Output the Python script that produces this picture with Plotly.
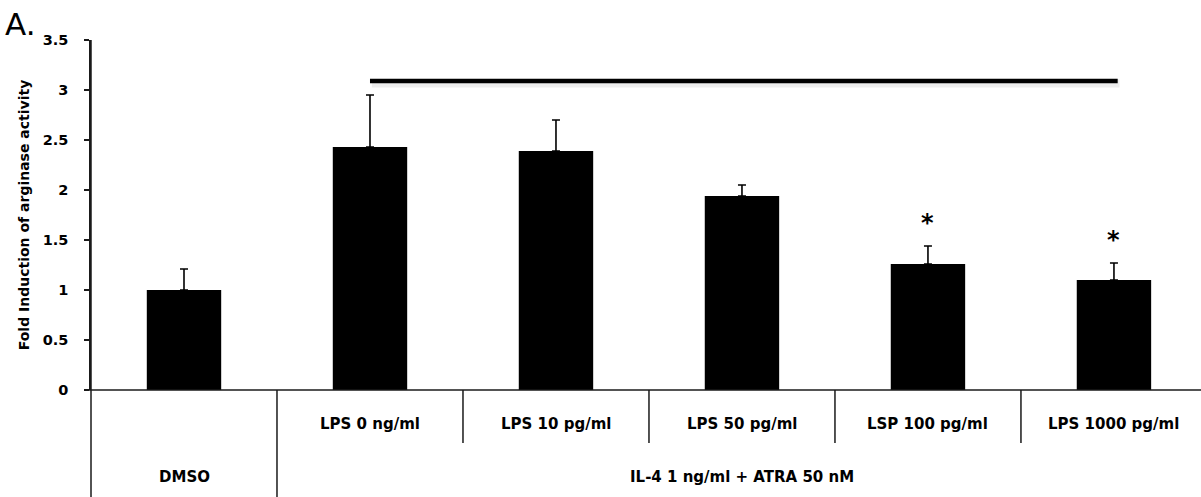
import plotly.graph_objects as go

# Treatment groups (bottom row) and sub-conditions (upper row)
conditions = ["", "LPS 0 ng/ml", "LPS 10 pg/ml", "LPS 50 pg/ml", "LSP 100 pg/ml", "LPS 1000 pg/ml"]
groups = ["DMSO", "IL-4 1 ng/ml + ATRA 50 nM"]
group_members = [[0], [1, 2, 3, 4, 5]]

# Fold induction of arginase activity (mean) and upper error (SD)
fold_induction = [1.00, 2.43, 2.39, 1.94, 1.26, 1.10]
error_upper = [0.21, 0.52, 0.31, 0.11, 0.18, 0.17]
significant = [False, False, False, False, True, True]

# Bracket level over the IL-4 + ATRA conditions
bracket_level = 3.09
bracket_from, bracket_to = 1, 5.02

yticks = [0, 0.5, 1, 1.5, 2, 2.5, 3, 3.5]

FONT = "DejaVu Sans"
W, H = 1201, 497
L, R, T, B = 91, 0, 40, 107
x_lo, x_hi = -0.5, 5.468
plot_h = H - T - B

x = list(range(len(fold_induction)))


def px_to_paper_y(py):
    return (H - B - py) / plot_h


def data_to_paper_x(xv):
    return (xv - x_lo) / (x_hi - x_lo)


fig = go.Figure()
fig.add_trace(go.Bar(
    x=x,
    y=fold_induction,
    width=0.4,
    marker=dict(color="black", line=dict(width=0)),
    error_y=dict(type="data", symmetric=False, array=error_upper,
                 arrayminus=[0] * len(error_upper),
                 color="black", thickness=1.6, width=4),
    showlegend=False,
    hoverinfo="skip",
))

shapes = []
# soft shadow and the bracket line itself
shapes.append(dict(type="line", xref="x", yref="y",
                   x0=bracket_from + 0.01, x1=bracket_to + 0.01,
                   y0=bracket_level - 0.025, y1=bracket_level - 0.025,
                   line=dict(color="rgba(0,0,0,0.07)", width=8), layer="above"))
shapes.append(dict(type="line", xref="x", yref="y",
                   x0=bracket_from, x1=bracket_to,
                   y0=bracket_level, y1=bracket_level,
                   line=dict(color="black", width=4.5), layer="above"))

# x axis baseline
shapes.append(dict(type="line", xref="paper", yref="paper",
                   x0=-4 / (W - L - R), x1=1, y0=0, y1=0,
                   line=dict(color="#1a1a1a", width=1.5)))
# y axis extended down through the label table
shapes.append(dict(type="line", xref="paper", yref="paper",
                   x0=0, x1=0, y0=1, y1=px_to_paper_y(H + 2),
                   line=dict(color="#1a1a1a", width=1.5)))

# group dividers (full depth) and condition dividers (upper row only)
group_edges = [members[-1] + 0.5 for members in group_members[:-1]]
for ge in group_edges:
    xp = data_to_paper_x(ge)
    shapes.append(dict(type="line", xref="paper", yref="paper",
                       x0=xp, x1=xp, y0=0, y1=px_to_paper_y(H + 2),
                       line=dict(color="#1a1a1a", width=1.5)))
for members in group_members:
    for m in members[1:]:
        xp = data_to_paper_x(m - 0.5)
        shapes.append(dict(type="line", xref="paper", yref="paper",
                           x0=xp, x1=xp, y0=0, y1=px_to_paper_y(443),
                           line=dict(color="#1a1a1a", width=1.5)))

annotations = []
label_font = dict(family=FONT, size=15, color="black", weight="bold")
for xi, name in zip(x, conditions):
    if name:
        annotations.append(dict(x=xi, y=px_to_paper_y(424), xref="x", yref="paper",
                                text=name, showarrow=False, font=label_font,
                                xanchor="center", yanchor="middle"))
for name, members in zip(groups, group_members):
    xc = (members[0] + members[-1]) / 2
    annotations.append(dict(x=xc, y=px_to_paper_y(477), xref="x", yref="paper",
                            text=name, showarrow=False, font=label_font,
                            xanchor="center", yanchor="middle"))

# significance stars
for xi, v, e, s in zip(x, fold_induction, error_upper, significant):
    if s:
        annotations.append(dict(x=xi, y=v + e, xref="x", yref="y", text="*",
                                showarrow=False, yanchor="bottom", yshift=7,
                                font=dict(family=FONT, size=24, color="black", weight="bold")))

# panel letter
annotations.append(dict(x=0, y=1, xref="paper", yref="paper", text="A.",
                        showarrow=False, xanchor="left", yanchor="top",
                        xshift=-L + 3, yshift=T - 4,
                        font=dict(family=FONT, size=31, color="black")))

fig.update_layout(
    width=W, height=H,
    margin=dict(l=L, r=R, t=T, b=B, pad=0),
    plot_bgcolor="white", paper_bgcolor="white",
    shapes=shapes, annotations=annotations,
    xaxis=dict(range=[x_lo, x_hi], showticklabels=False, ticks="",
               showline=False, showgrid=False, zeroline=False, fixedrange=True),
    yaxis=dict(range=[0, 3.5], tickvals=yticks,
               ticktext=[f"{t:g}" for t in yticks],
               ticks="outside", ticklen=5, tickwidth=1.5, tickcolor="#1a1a1a",
               ticklabelstandoff=13,
               showline=True, linecolor="#1a1a1a", linewidth=1.5,
               showgrid=False, zeroline=False,
               tickfont=dict(family=FONT, size=14.5, color="black", weight="bold"),
               title=dict(text="Fold Induction of arginase activity", standoff=10,
                          font=dict(family=FONT, size=14, color="black", weight="bold")),
               fixedrange=True),
)

fig.write_html("out.html")
